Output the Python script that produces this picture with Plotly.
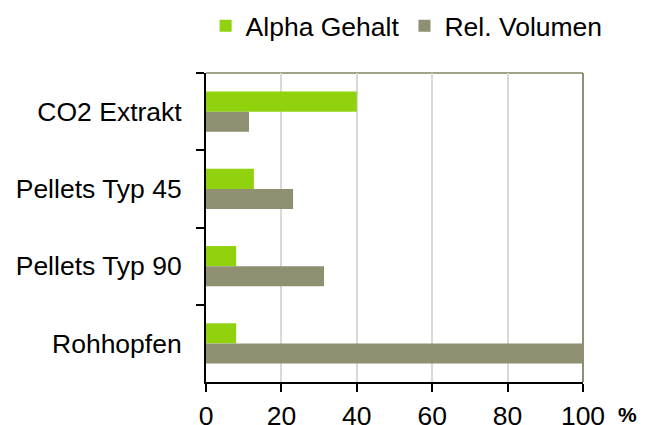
import plotly.graph_objects as go

categories = ["CO2 Extrakt", "Pellets Typ 45", "Pellets Typ 90", "Rohhopfen"]
alpha_gehalt = [40, 12.7, 8, 8]
rel_volumen = [11.4, 23.1, 31.3, 100]
x_ticks = [0, 20, 40, 60, 80, 100]

GREEN = "#91D20F"
OLIVE = "#8F8F71"
FONT = "Liberation Sans, Arial, sans-serif"

fig = go.Figure()
fig.add_trace(go.Bar(y=categories, x=alpha_gehalt, orientation="h", name="Alpha Gehalt",
                     marker=dict(color=GREEN, line=dict(width=0))))
fig.add_trace(go.Bar(y=categories, x=rel_volumen, orientation="h", name="Rel. Volumen",
                     marker=dict(color=OLIVE, line=dict(width=0))))

fig.update_layout(
    width=651, height=425,
    margin=dict(l=206, r=68, t=73, b=43, autoexpand=False),
    paper_bgcolor="white", plot_bgcolor="white",
    font=dict(family=FONT, size=26.5, color="black"),
    barmode="group", bargap=0.48, bargroupgap=0,
    showlegend=True,
    legend=dict(orientation="h", xref="paper", yref="paper",
                x=-0.001, y=1 + 47/309, xanchor="left", yanchor="middle",
                font=dict(size=26.5), bgcolor="rgba(0,0,0,0)"),
    xaxis=dict(range=[0, 100], tickvals=x_ticks, showgrid=True, gridcolor="#D9D9D9", gridwidth=2,
               showline=True, linecolor="black", linewidth=2, ticks="outside", ticklen=8,
               tickwidth=2, tickcolor="black", zeroline=False, fixedrange=True,
               ticklabelstandoff=1, automargin=False),
    yaxis=dict(categoryorder="array", categoryarray=categories, autorange="reversed",
               showline=True, linecolor="black", linewidth=2, ticks="outside", ticklen=8,
               tickwidth=2, tickcolor="black", tickson="boundaries", showgrid=False,
               ticklabelstandoff=17, automargin=False, fixedrange=True),
    shapes=[
        dict(type="line", xref="paper", yref="paper", x0=0, x1=1, y0=1, y1=1,
             line=dict(color="#A3A38A", width=2), layer="below"),
        dict(type="line", xref="paper", yref="paper", x0=1, x1=1, y0=0, y1=1,
             line=dict(color=OLIVE, width=2), layer="above"),
    ],
    annotations=[dict(text="<b>%</b>", xref="paper", yref="paper", x=(627 - 206) / 377, y=0,
                      xanchor="center", yanchor="bottom", yshift=-46, showarrow=False,
                      font=dict(size=21))],
)

fig.write_html("out.html", config={"displayModeBar": False},
               post_script="document.body.style.margin='0';")
